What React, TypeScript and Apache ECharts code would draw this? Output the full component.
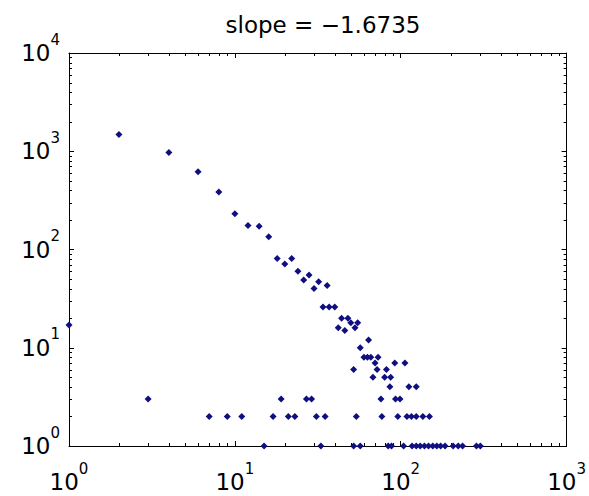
import React, { useEffect, useRef } from "react";
import * as echarts from "echarts";

const titleText = "slope = \u22121.6735";

// Upper (power-law) branch: x value and its count
const branchX = [1, 2, 3, 4, 6, 8, 10, 12, 14, 16, 18, 20, 22, 24, 26, 28, 30, 32, 36, 34, 37, 40, 44, 48, 42, 46, 53, 50, 55, 57, 64, 60, 63, 66, 73, 70, 92, 106, 52, 72, 82, 68, 80, 87, 86, 112, 124, 19, 27, 29, 76, 93, 99];
const branchY = [17, 1480, 3, 970, 620, 385, 231, 176, 172, 135, 81, 71, 81, 60, 49, 55, 40, 47, 43, 26, 26, 26, 20, 20, 16, 15, 16, 18, 18, 10, 12, 8, 8, 8, 8, 7, 7, 7, 6, 6, 6, 5, 5, 5, 4, 4, 4, 3, 3, 3, 3, 3, 3];
// x values whose count is 2
const countTwoX = [7, 9, 11, 17, 21, 23, 31, 35, 54, 77, 96, 109, 116, 124, 136, 149];
// x values whose count is 1
const countOneX = [15, 33, 52, 57, 84, 88, 104, 117, 124, 131, 139, 147, 156, 165, 174, 185, 207, 222, 236, 286, 302];

// Axis decades and minor tick multipliers
const xDecades = [1, 10, 100];
const yDecades = [1, 10, 100, 1000];
const minorMultipliers = [2, 3, 4, 5, 6, 7, 8, 9];
const xMin = 1, xMax = 1000, yMin = 1, yMax = 10000;

const xMinorTicks = xDecades.flatMap((d) => minorMultipliers.map((m) => d * m));
const yMinorTicks = yDecades.flatMap((d) => minorMultipliers.map((m) => d * m));

const FONT = "DejaVu Sans";
const rich = {
  b: { fontSize: 23, fontFamily: FONT, color: "#000" },
  e: { fontSize: 15, fontFamily: FONT, color: "#000", padding: [0, 0, 27, 0] },
};
const fmt = (v: number) => `{b|10}{e|${Math.round(Math.log10(v))}}`;

function axisBase(extra: any) {
  return {
    type: "log",
    logBase: 10,
    axisLine: { show: true, onZero: false, lineStyle: { color: "#000", width: 1 } },
    axisTick: { show: true, inside: true, length: 5, lineStyle: { color: "#000", width: 1 } },
    splitLine: { show: false },
    minorTick: { show: false },
    minorSplitLine: { show: false },
    ...extra,
  };
}

export default function App() {
  const ref = useRef<HTMLDivElement>(null);
  useEffect(() => {
    if (!ref.current) return;
    const chart = echarts.init(ref.current, null, { renderer: "svg" });
    const points = [
      ...branchX.map((x, i) => [x, branchY[i]]),
      ...countTwoX.map((x) => [x, 2]),
      ...countOneX.map((x) => [x, 1]),
    ];
    const tickLine = (x1: number, y1: number, x2: number, y2: number) => ({
      type: "line",
      shape: { x1, y1, x2, y2 },
      style: { stroke: "#000", lineWidth: 1 },
    });
    chart.setOption({
      animation: false,
      backgroundColor: "#fff",
      title: {
        text: titleText,
        left: 318,
        textAlign: "center",
        top: 8,
        textStyle: { fontFamily: FONT, fontSize: 23, fontWeight: "normal", color: "#000" },
      },
      grid: { left: 69, top: 53, right: 18, bottom: 50, containLabel: false },
      xAxis: [
        axisBase({
          min: xMin, max: xMax, position: "bottom",
          axisLabel: { show: true, margin: 15, formatter: fmt, rich, showMinLabel: true, showMaxLabel: true },
        }),
        axisBase({ min: xMin, max: xMax, position: "top", axisLabel: { show: false } }),
      ],
      yAxis: [
        axisBase({
          min: yMin, max: yMax, position: "left",
          axisLabel: { show: true, margin: 9, formatter: fmt, rich, showMinLabel: true, showMaxLabel: true },
        }),
        axisBase({ min: yMin, max: yMax, position: "right", axisLabel: { show: false } }),
      ],
      series: [
        {
          type: "custom",
          silent: true,
          clip: false,
          xAxisIndex: 0,
          yAxisIndex: 0,
          data: xMinorTicks.map((v) => [v, yMin]),
          renderItem: (params: any, api: any) => {
            const cs = params.coordSys;
            const p = api.coord([api.value(0), yMin]);
            const x = Math.round(p[0]) + 0.5;
            const b = cs.y + cs.height;
            return {
              type: "group",
              children: [tickLine(x, b, x, b - 3), tickLine(x, cs.y, x, cs.y + 3)],
            };
          },
          z: 1,
        },
        {
          type: "custom",
          silent: true,
          clip: false,
          xAxisIndex: 0,
          yAxisIndex: 0,
          data: yMinorTicks.map((v) => [xMin, v]),
          renderItem: (params: any, api: any) => {
            const cs = params.coordSys;
            const p = api.coord([xMin, api.value(1)]);
            const y = Math.round(p[1]) + 0.5;
            const r = cs.x + cs.width;
            return {
              type: "group",
              children: [tickLine(cs.x, y, cs.x + 3, y), tickLine(r, y, r - 3, y)],
            };
          },
          z: 1,
        },
        {
          type: "scatter",
          xAxisIndex: 0,
          yAxisIndex: 0,
          clip: false,
          symbol: "diamond",
          symbolSize: 7,
          itemStyle: { color: "#0f0f80", opacity: 1 },
          data: points,
          z: 3,
        },
      ],
    });
    return () => chart.dispose();
  }, []);
  return <div ref={ref} style={{ position: "fixed", left: 0, top: 0, width: 589, height: 496 }} />;
}
